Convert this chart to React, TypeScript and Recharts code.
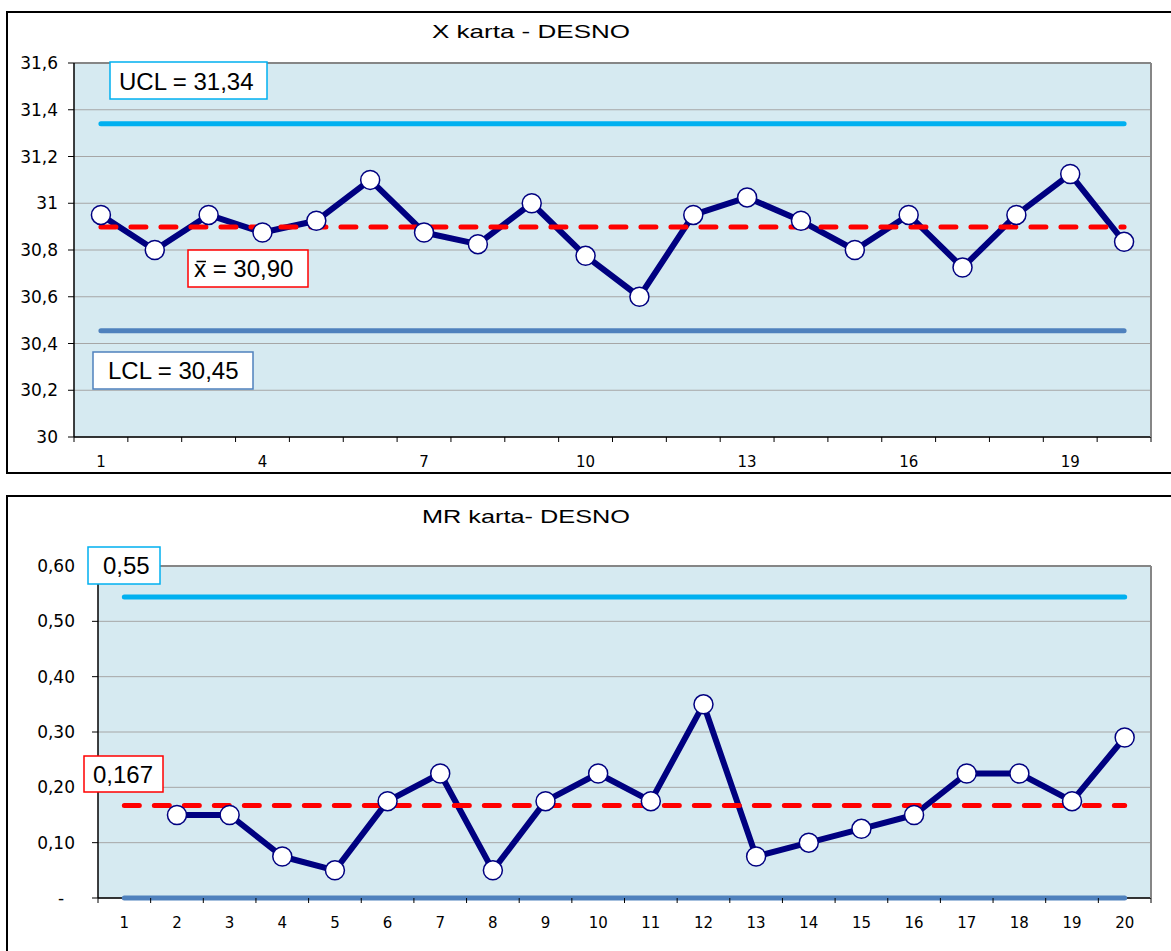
import React from 'react';
import { LineChart, Line, XAxis, YAxis, CartesianGrid, ReferenceLine } from 'recharts';

// ---- data ----
const samples = [1, 2, 3, 4, 5, 6, 7, 8, 9, 10, 11, 12, 13, 14, 15, 16, 17, 18, 19, 20];
const xValues = [30.95, 30.8, 30.95, 30.875, 30.925, 31.1, 30.875, 30.825, 31.0, 30.775, 30.6, 30.95, 31.025, 30.925, 30.8, 30.95, 30.725, 30.95, 31.125, 30.835];
const mrValues = [null, 0.15, 0.15, 0.075, 0.05, 0.175, 0.225, 0.05, 0.175, 0.225, 0.175, 0.35, 0.075, 0.1, 0.125, 0.15, 0.225, 0.225, 0.175, 0.29];
const xUCL = 31.34;
const xCL = 30.898;
const xLCL = 30.455;
const mrUCL = 0.544;
const mrCL = 0.167;
const mrLCL = 0;
const xYTicks = [30, 30.2, 30.4, 30.6, 30.8, 31, 31.2, 31.4, 31.6];
const xXTicks = [1, 4, 7, 10, 13, 16, 19];
const mrYTicks = [0, 0.1, 0.2, 0.3, 0.4, 0.5, 0.6];
const mrXTicks = [1, 2, 3, 4, 5, 6, 7, 8, 9, 10, 11, 12, 13, 14, 15, 16, 17, 18, 19, 20];
const bandEdges = [0.5, 1.5, 2.5, 3.5, 4.5, 5.5, 6.5, 7.5, 8.5, 9.5, 10.5, 11.5, 12.5, 13.5, 14.5, 15.5, 16.5, 17.5, 18.5, 19.5, 20.5];

const xData = samples.map((s, i) => ({ i: s, v: xValues[i], ucl: xUCL, cl: xCL, lcl: xLCL }));
const mrData = samples.map((s, i) => ({ i: s, v: mrValues[i], ucl: mrUCL, cl: mrCL, lcl: mrLCL }));

// ---- styles ----
const NAVY = '#000080';
const UCL_C = '#00B0F0';
const LCL_C = '#4F81BD';
const RED = '#FF0000';
const PLOT_BG = '#D6EAF1';
const GRID = '#A6A6A6';
const BORDER = '#868686';

const fmtX = (v: number) => String(v).replace('.', ',');
const fmtMR = (v: number) => (v === 0 ? '-\u00A0\u00A0' : v.toFixed(2).replace('.', ','));

const makeXTick = (labels: number[]) => (p: any) => {
  const v = p.payload.value;
  if (v % 1 !== 0) {
    return <line x1={p.x} x2={p.x} y1={p.y} y2={p.y + 5} stroke="#000" strokeWidth={1} />;
  }
  if (labels.indexOf(v) < 0) return <g />;
  return (
    <text x={p.x} y={p.y + 19} dy="0.71em" textAnchor="middle" fontFamily="DejaVu Sans" fontSize={15} fill="#000">
      {v}
    </text>
  );
};

function ControlChart(props: {
  data: any[];
  yDomain: [number, number];
  yTicks: number[];
  xTicks: number[];
  fmt: (v: number) => string;
  height: number;
  margin: any;
  tickMargin: number;
}) {
  const { data, yDomain, yTicks, xTicks, fmt, height, margin, tickMargin } = props;
  const allTicks = bandEdges.concat(xTicks).sort((a, b) => a - b);
  return (
    <LineChart width={1171} height={height} data={data} margin={margin}>
      <CartesianGrid vertical={false} stroke={GRID} fill={PLOT_BG} fillOpacity={1} />
      <XAxis
        type="number"
        dataKey="i"
        domain={[0.5, 20.5]}
        ticks={allTicks}
        interval={0}
        tickLine={false}
        tickSize={0}
        tickMargin={0}
        height={30}
        axisLine={false}
        tick={makeXTick(xTicks)}
      />
      <YAxis
        type="number"
        domain={yDomain}
        ticks={yTicks}
        interval={0}
        width={60}
        tickSize={6}
        tickMargin={tickMargin}
        tickFormatter={fmt}
        axisLine={{ stroke: '#000', strokeWidth: 1.5 }}
        tickLine={{ stroke: '#000' }}
        tick={{ fontFamily: 'DejaVu Sans', fontSize: 17, fill: '#000' }}
      />
      <ReferenceLine y={yDomain[0]} stroke="#000" strokeWidth={1.5} />
      <ReferenceLine y={yDomain[1]} stroke={BORDER} strokeWidth={2} />
      <ReferenceLine x={20.5} stroke={BORDER} strokeWidth={2} />
      <Line dataKey="ucl" stroke={UCL_C} strokeWidth={5} strokeLinecap="round" dot={false} activeDot={false} isAnimationActive={false} />
      <Line dataKey="lcl" stroke={LCL_C} strokeWidth={5} strokeLinecap="round" dot={false} activeDot={false} isAnimationActive={false} />
      <Line dataKey="v" stroke={NAVY} strokeWidth={6} strokeLinejoin="round" dot={false} activeDot={false} isAnimationActive={false} />
      <Line dataKey="cl" stroke={RED} strokeWidth={5} strokeLinecap="round" strokeDasharray="15 15" dot={false} activeDot={false} isAnimationActive={false} />
      <Line
        dataKey="v"
        stroke="none"
        dot={{ r: 9.5, fill: '#FFFFFF', stroke: NAVY, strokeWidth: 1.5 }}
        activeDot={false}
        isAnimationActive={false}
      />
    </LineChart>
  );
}

type Box = { x: number; y: number; w: number; h: number; color: string; text: string; tx: number; ty: number; bar?: boolean };
const boxes: Box[] = [
  { x: 110, y: 62, w: 157, h: 37, color: UCL_C, text: 'UCL = 31,34', tx: 119, ty: 90 },
  { x: 93, y: 352, w: 160, h: 37, color: LCL_C, text: 'LCL = 30,45', tx: 108, ty: 379 },
  { x: 188, y: 250, w: 120, h: 37, color: RED, text: 'x = 30,90', tx: 194, ty: 277, bar: true },
  { x: 88, y: 547, w: 72, h: 37, color: UCL_C, text: '0,55', tx: 103, ty: 574 },
  { x: 84, y: 756, w: 79, h: 36, color: RED, text: '0,167', tx: 93, ty: 783 },
];

export default function App() {
  return (
    <div style={{ position: 'absolute', left: 0, top: 0, width: 1171, height: 951, overflow: 'hidden', background: '#fff' }}>
      <div style={{ position: 'absolute', left: 0, top: 0 }}>
        <ControlChart
          data={xData}
          yDomain={[30, 31.6]}
          yTicks={xYTicks}
          xTicks={xXTicks}
          fmt={fmtX}
          height={480}
          margin={{ top: 63, right: 20, left: 14, bottom: 13 }}
          tickMargin={10}
        />
      </div>
      <div style={{ position: 'absolute', left: 0, top: 480 }}>
        <ControlChart
          data={mrData}
          yDomain={[0, 0.6]}
          yTicks={mrYTicks}
          xTicks={mrXTicks}
          fmt={fmtMR}
          height={471}
          margin={{ top: 86, right: 20, left: 38, bottom: 23 }}
          tickMargin={17}
        />
      </div>
      <svg width={1171} height={951} style={{ position: 'absolute', left: 0, top: 0, pointerEvents: 'none' }}>
        <rect x={7} y={12} width={1200} height={461} fill="none" stroke="#000" strokeWidth={2} />
        <rect x={7} y={496} width={1200} height={500} fill="none" stroke="#000" strokeWidth={2} />
        <text x={432} y={38} fontFamily="Liberation Sans, Arial" fontSize={19} textLength={198} lengthAdjust="spacingAndGlyphs" fill="#000">
          X karta - DESNO
        </text>
        <text x={422} y={523} fontFamily="Liberation Sans, Arial" fontSize={19} textLength={208} lengthAdjust="spacingAndGlyphs" fill="#000">
          MR karta- DESNO
        </text>
        {boxes.map((b, k) => (
          <g key={k}>
            <rect x={b.x} y={b.y} width={b.w} height={b.h} fill="#fff" stroke={b.color} strokeWidth={1.5} />
            <text x={b.tx} y={b.ty} fontFamily="Liberation Sans, Arial" fontSize={24} fill="#000">
              {b.text}
            </text>
            {b.bar ? <line x1={196.5} x2={206} y1={261.5} y2={261.5} stroke="#000" strokeWidth={1.5} /> : null}
          </g>
        ))}
      </svg>
    </div>
  );
}
